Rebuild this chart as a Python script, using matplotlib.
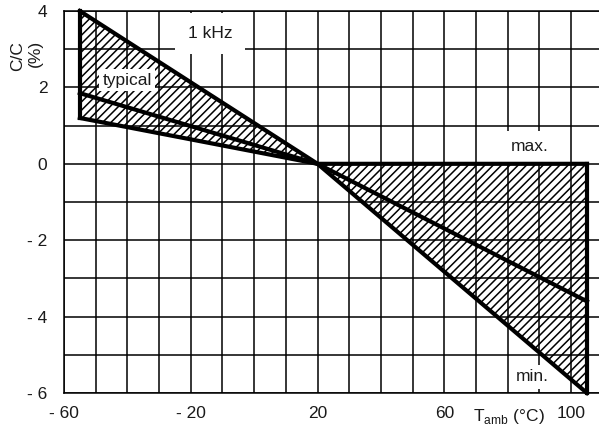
import matplotlib
matplotlib.use('Agg')
import matplotlib.pyplot as plt

plt.rcParams['font.family'] = ['Liberation Sans', 'DejaVu Sans']
plt.rcParams['hatch.linewidth'] = 1.1

# temperature points (°C) and capacitance change (%)
temps = [-55, 20, 105]
max_dev = [4.0, 0.0, 0.0]
typ_dev = [1.85, 0.0, -3.6]
min_dev = [1.2, 0.0, -6.0]

xticks = [-60, -20, 20, 60, 100]
xticklabels = ['- 60', '- 20', '20', '60', '100']
yticks = [4, 2, 0, -2, -4, -6]
yticklabels = ['4', '2', '0', '- 2', '- 4', '- 6']

fig = plt.figure(figsize=(5.99, 4.30), dpi=100)
ax = fig.add_axes([0.1068, 0.0860, 0.8932, 0.8884])
ax.set_xlim(-60, 108.8)
ax.set_ylim(-6, 4)

# grid every 10 °C and every 1 %
for x in range(-60, 111, 10):
    ax.axvline(x, color='black', lw=1.1, zorder=1)
for y in range(-6, 5):
    ax.axhline(y, color='black', lw=1.1, zorder=1)

for s in ['top', 'bottom', 'left']:
    ax.spines[s].set_linewidth(1.1)
ax.spines['right'].set_visible(False)

ax.fill_between(temps, min_dev, max_dev, facecolor='none', edgecolor='black',
                hatch='////', linewidth=0, zorder=2)

thick = dict(color='black', lw=3.0, solid_capstyle='projecting', zorder=3, clip_on=False)
ax.plot(temps, max_dev, **thick)
ax.plot(temps, typ_dev, **thick)
ax.plot(temps, min_dev, **thick)
ax.plot([temps[0], temps[0]], [min_dev[0], max_dev[0]], **thick)
ax.plot([temps[-1], temps[-1]], [min_dev[-1], max_dev[-1]], **thick)

ax.set_xticks(xticks)
ax.set_xticklabels(xticklabels)
ax.set_yticks(yticks)
ax.set_yticklabels(yticklabels)
ax.tick_params(axis='both', length=0, labelsize=12.5, labelcolor='#1a1a1a')
ax.tick_params(axis='x', pad=9)
ax.tick_params(axis='y', pad=12)

txt = dict(fontsize=12.5, color='#1a1a1a', ha='center', va='center', zorder=2.5)
ax.text(-13.9, 3.42, '1 kHz', bbox=dict(boxstyle='square,pad=0.75', fc='white', ec='none'), **txt)
ax.text(-40.1, 2.19, 'typical', bbox=dict(boxstyle='square,pad=0.2', fc='white', ec='none'), **txt)
ax.text(87.0, 0.46, 'max.', bbox=dict(boxstyle='square,pad=0.45', fc='white', ec='none'), **txt)
ax.text(87.6, -5.58, 'min.', bbox=dict(boxstyle='square,pad=0.25', fc='white', ec='none'), **txt)

ax.annotate('T$_{\\mathregular{amb}}$ (°C)', xy=(80.5, -6), xytext=(0, -17),
            textcoords='offset points', ha='center', va='center',
            fontsize=12.5, color='#1a1a1a', annotation_clip=False)

# y-axis label, two rotated lines
ylab = dict(rotation=90, rotation_mode='anchor', ha='center', va='center',
            fontsize=12.5, color='#1a1a1a')
fig.text(18 / 599, 1 - 56 / 430, 'C/C', **ylab)
fig.text(35 / 599, 1 - 53 / 430, '(%)', **ylab)

fig.savefig('out.png', dpi=100)
